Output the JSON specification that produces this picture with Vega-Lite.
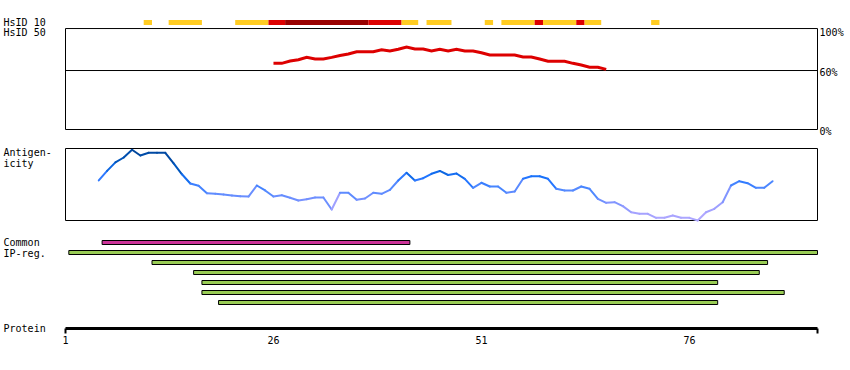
{
  "$schema": "https://vega.github.io/schema/vega-lite/v6.json",
  "width": 850,
  "height": 370,
  "padding": 0,
  "autosize": {"type": "fit", "contains": "padding"},
  "background": "white",
  "config": {"view": {"stroke": null}, "text": {"font": "DejaVu Sans Mono", "fontSize": 10, "color": "black"}},
  "datasets": {
    "hsid10": [
      {"from": 10.4, "to": 11.4, "level": "weak"},
      {"from": 13.4, "to": 17.4, "level": "weak"},
      {"from": 21.4, "to": 25.4, "level": "weak"},
      {"from": 25.4, "to": 27.4, "level": "medium"},
      {"from": 27.4, "to": 37.4, "level": "strong"},
      {"from": 37.4, "to": 41.4, "level": "medium"},
      {"from": 41.4, "to": 43.4, "level": "weak"},
      {"from": 44.4, "to": 47.4, "level": "weak"},
      {"from": 51.4, "to": 52.4, "level": "weak"},
      {"from": 53.4, "to": 57.4, "level": "weak"},
      {"from": 57.4, "to": 58.4, "level": "medium"},
      {"from": 58.4, "to": 62.4, "level": "weak"},
      {"from": 62.4, "to": 63.4, "level": "medium"},
      {"from": 63.4, "to": 65.4, "level": "weak"},
      {"from": 71.4, "to": 72.4, "level": "weak"}
    ],
    "hsid50": [
      {"residue": 26, "pct": 67.3}, {"residue": 27, "pct": 67.3}, {"residue": 28, "pct": 69.7},
      {"residue": 29, "pct": 71.0}, {"residue": 30, "pct": 73.4}, {"residue": 31, "pct": 71.7},
      {"residue": 32, "pct": 71.7}, {"residue": 33, "pct": 73.4}, {"residue": 34, "pct": 75.3},
      {"residue": 35, "pct": 76.8}, {"residue": 36, "pct": 79.1}, {"residue": 37, "pct": 79.1},
      {"residue": 38, "pct": 79.1}, {"residue": 39, "pct": 81.2}, {"residue": 40, "pct": 79.8},
      {"residue": 41, "pct": 81.6}, {"residue": 42, "pct": 83.9}, {"residue": 43, "pct": 81.9},
      {"residue": 44, "pct": 81.9}, {"residue": 45, "pct": 79.8}, {"residue": 46, "pct": 81.6},
      {"residue": 47, "pct": 79.8}, {"residue": 48, "pct": 81.6}, {"residue": 49, "pct": 79.8},
      {"residue": 50, "pct": 79.8}, {"residue": 51, "pct": 78.1}, {"residue": 52, "pct": 75.8},
      {"residue": 53, "pct": 75.8}, {"residue": 54, "pct": 75.8}, {"residue": 55, "pct": 75.8},
      {"residue": 56, "pct": 73.7}, {"residue": 57, "pct": 73.7}, {"residue": 58, "pct": 71.7},
      {"residue": 59, "pct": 69.4}, {"residue": 60, "pct": 69.4}, {"residue": 61, "pct": 69.4},
      {"residue": 62, "pct": 67.3}, {"residue": 63, "pct": 65.6}, {"residue": 64, "pct": 63.3},
      {"residue": 65, "pct": 63.3}, {"residue": 66, "pct": 61.2}
    ],
    "antigen": [
      {"residue": 5, "score": 0.556}, {"residue": 6, "score": 0.689}, {"residue": 7, "score": 0.808},
      {"residue": 8, "score": 0.875}, {"residue": 9, "score": 0.982}, {"residue": 10, "score": 0.903},
      {"residue": 11, "score": 0.94}, {"residue": 12, "score": 0.94}, {"residue": 13, "score": 0.94},
      {"residue": 14, "score": 0.792}, {"residue": 15, "score": 0.642}, {"residue": 16, "score": 0.514},
      {"residue": 17, "score": 0.483}, {"residue": 18, "score": 0.379}, {"residue": 19, "score": 0.372},
      {"residue": 20, "score": 0.361}, {"residue": 21, "score": 0.347}, {"residue": 22, "score": 0.336},
      {"residue": 23, "score": 0.333}, {"residue": 24, "score": 0.486}, {"residue": 25, "score": 0.417},
      {"residue": 26, "score": 0.333}, {"residue": 27, "score": 0.351}, {"residue": 28, "score": 0.315},
      {"residue": 29, "score": 0.278}, {"residue": 30, "score": 0.296}, {"residue": 31, "score": 0.319},
      {"residue": 32, "score": 0.319}, {"residue": 33, "score": 0.153}, {"residue": 34, "score": 0.385},
      {"residue": 35, "score": 0.385}, {"residue": 36, "score": 0.288}, {"residue": 37, "score": 0.306},
      {"residue": 38, "score": 0.385}, {"residue": 39, "score": 0.371}, {"residue": 40, "score": 0.426},
      {"residue": 41, "score": 0.556}, {"residue": 42, "score": 0.662}, {"residue": 43, "score": 0.556},
      {"residue": 44, "score": 0.588}, {"residue": 45, "score": 0.649}, {"residue": 46, "score": 0.688},
      {"residue": 47, "score": 0.632}, {"residue": 48, "score": 0.653}, {"residue": 49, "score": 0.579},
      {"residue": 50, "score": 0.454}, {"residue": 51, "score": 0.524}, {"residue": 52, "score": 0.472},
      {"residue": 53, "score": 0.472}, {"residue": 54, "score": 0.385}, {"residue": 55, "score": 0.403},
      {"residue": 56, "score": 0.579}, {"residue": 57, "score": 0.615}, {"residue": 58, "score": 0.615},
      {"residue": 59, "score": 0.579}, {"residue": 60, "score": 0.44}, {"residue": 61, "score": 0.417},
      {"residue": 62, "score": 0.417}, {"residue": 63, "score": 0.472}, {"residue": 64, "score": 0.44},
      {"residue": 65, "score": 0.301}, {"residue": 66, "score": 0.246}, {"residue": 67, "score": 0.254},
      {"residue": 68, "score": 0.199}, {"residue": 69, "score": 0.115}, {"residue": 70, "score": 0.093},
      {"residue": 71, "score": 0.093}, {"residue": 72, "score": 0.037}, {"residue": 73, "score": 0.037},
      {"residue": 74, "score": 0.069}, {"residue": 75, "score": 0.037}, {"residue": 76, "score": 0.037},
      {"residue": 77, "score": 0.0}, {"residue": 78, "score": 0.115}, {"residue": 79, "score": 0.162},
      {"residue": 80, "score": 0.254}, {"residue": 81, "score": 0.486}, {"residue": 82, "score": 0.546},
      {"residue": 83, "score": 0.518}, {"residue": 84, "score": 0.454}, {"residue": 85, "score": 0.454},
      {"residue": 86, "score": 0.546}
    ],
    "ipreg": [
      {"from": 5.4, "to": 42.4, "lane": 22, "kind": "common"},
      {"from": 1.4, "to": 91.4, "lane": 23, "kind": "ip"},
      {"from": 11.4, "to": 85.4, "lane": 24, "kind": "ip"},
      {"from": 16.4, "to": 84.4, "lane": 25, "kind": "ip"},
      {"from": 17.4, "to": 79.4, "lane": 26, "kind": "ip"},
      {"from": 17.4, "to": 87.4, "lane": 27, "kind": "ip"},
      {"from": 19.4, "to": 79.4, "lane": 28, "kind": "ip"}
    ],
    "labels": [
      {"text": "HsID 10", "lane": -0.45},
      {"text": "HsID 50", "lane": 0.5},
      {"text": "Antigen-\nicity", "lane": 12.5},
      {"text": "Common\nIP-reg.", "lane": 21.5},
      {"text": "Protein", "lane": 30.15}
    ],
    "pctlabels": [
      {"text": "100%", "pct": 100},
      {"text": "60%", "pct": 60},
      {"text": "0%", "pct": 0}
    ],
    "ticks": [
      {"residue": 1, "text": "1"},
      {"residue": 26, "text": "26"},
      {"residue": 51, "text": "51"},
      {"residue": 76, "text": "76"}
    ]
  },
  "resolve": {"scale": {"y": "independent", "color": "independent"}},
  "layer": [
    {
      "data": {"name": "hsid10"},
      "mark": {"type": "rect"},
      "encoding": {
        "x": {"field": "from", "type": "quantitative", "axis": null, "scale": {"domain": [1, 91.4], "range": [65.5, 817.5], "nice": false, "zero": false}},
        "x2": {"field": "to"},
        "y": {"datum": 0, "type": "ordinal", "axis": null, "scale": {"type": "band", "domain": [0,1,2,3,4,5,6,7,8,9,10,11,12,13,14,15,16,17,18,19,20,21,22,23,24,25,26,27,28], "range": [17.5, 307.5], "paddingInner": 0.5, "paddingOuter": 0.25}},
        "color": {"field": "level", "type": "nominal", "legend": null, "scale": {"domain": ["weak", "medium", "strong"], "range": ["#ffcc22", "#dd0000", "#990000"]}}
      }
    },
    {
      "data": {"values": [{}]},
      "mark": {"type": "rect", "fill": null, "fillOpacity": 0, "stroke": "black", "strokeWidth": 1},
      "encoding": {
        "x": {"datum": 1, "type": "quantitative", "axis": null, "scale": {"domain": [1, 91.4], "range": [65.5, 817.5], "nice": false, "zero": false}},
        "x2": {"datum": 91.4},
        "y": {"datum": 0, "type": "quantitative", "axis": null, "scale": {"domain": [0, 100], "range": [129.5, 31.2], "nice": false, "zero": false}},
        "y2": {"datum": 102.7}
      }
    },
    {
      "data": {"values": [{}]},
      "mark": {"type": "rule", "stroke": "black", "strokeWidth": 1},
      "encoding": {
        "x": {"datum": 1, "type": "quantitative", "axis": null, "scale": {"domain": [1, 91.4], "range": [65.5, 817.5], "nice": false, "zero": false}},
        "x2": {"datum": 91.4},
        "y": {"datum": 60, "type": "quantitative", "axis": null, "scale": {"domain": [0, 100], "range": [129.5, 31.2], "nice": false, "zero": false}}
      }
    },
    {
      "data": {"name": "hsid50"},
      "mark": {"type": "line", "stroke": "#dd0000", "strokeWidth": 3},
      "encoding": {
        "x": {"field": "residue", "type": "quantitative", "axis": null, "scale": {"domain": [1, 91.4], "range": [65.5, 817.5], "nice": false, "zero": false}},
        "y": {"field": "pct", "type": "quantitative", "axis": null, "scale": {"domain": [0, 100], "range": [129.5, 31.2], "nice": false, "zero": false}}
      }
    },
    {
      "data": {"name": "pctlabels"},
      "mark": {"type": "text", "align": "left", "baseline": "middle", "dy": 2},
      "encoding": {
        "x": {"datum": 91.65, "type": "quantitative", "axis": null, "scale": {"domain": [1, 91.4], "range": [65.5, 817.5], "nice": false, "zero": false}},
        "y": {"field": "pct", "type": "quantitative", "axis": null, "scale": {"domain": [0, 100], "range": [129.5, 31.2], "nice": false, "zero": false}},
        "text": {"field": "text"}
      }
    },
    {
      "data": {"values": [{}]},
      "mark": {"type": "rect", "fill": null, "fillOpacity": 0, "stroke": "black", "strokeWidth": 1},
      "encoding": {
        "x": {"datum": 1, "type": "quantitative", "axis": null, "scale": {"domain": [1, 91.4], "range": [65.5, 817.5], "nice": false, "zero": false}},
        "x2": {"datum": 91.4},
        "y": {"datum": 0, "type": "quantitative", "axis": null, "scale": {"domain": [0, 1], "range": [220.5, 148.5], "nice": false, "zero": false}},
        "y2": {"datum": 1}
      }
    },
    {
      "data": {"name": "antigen"},
      "transform": [
        {"window": [{"op": "lead", "field": "residue", "as": "r2"}, {"op": "lead", "field": "score", "as": "s2"}], "sort": [{"field": "residue"}]},
        {"filter": "datum.r2 != null"}
      ],
      "mark": {"type": "rule", "strokeWidth": 2, "strokeCap": "round"},
      "encoding": {
        "x": {"field": "residue", "type": "quantitative", "axis": null, "scale": {"domain": [1, 91.4], "range": [65.5, 817.5], "nice": false, "zero": false}},
        "x2": {"field": "r2"},
        "y": {"field": "score", "type": "quantitative", "axis": null, "scale": {"domain": [0, 1], "range": [220.5, 148.5], "nice": false, "zero": false}},
        "y2": {"field": "s2"},
        "color": {"field": "score", "type": "quantitative", "legend": null, "scale": {"domain": [0, 0.15, 0.3, 0.45, 0.6, 0.8, 1], "range": ["#b0a8ff", "#a0a0ff", "#7090ff", "#4d88ff", "#1a73ff", "#0055bb", "#004499"]}}
      }
    },
    {
      "data": {"name": "ipreg"},
      "mark": {"type": "rect", "stroke": "black", "strokeWidth": 1},
      "encoding": {
        "x": {"field": "from", "type": "quantitative", "axis": null, "scale": {"domain": [1, 91.4], "range": [65.5, 817.5], "nice": false, "zero": false}},
        "x2": {"field": "to"},
        "y": {"field": "lane", "type": "ordinal", "axis": null, "scale": {"type": "band", "domain": [0,1,2,3,4,5,6,7,8,9,10,11,12,13,14,15,16,17,18,19,20,21,22,23,24,25,26,27,28], "range": [17.5, 307.5], "paddingInner": 0.6, "paddingOuter": 0.3}},
        "color": {"field": "kind", "type": "nominal", "legend": null, "scale": {"domain": ["common", "ip"], "range": ["#cc3399", "#99cc55"]}}
      }
    },
    {
      "data": {"values": [{}]},
      "mark": {"type": "rule", "stroke": "black", "strokeWidth": 3},
      "encoding": {
        "x": {"datum": 1, "type": "quantitative", "axis": null, "scale": {"domain": [1, 91.4], "range": [65.5, 817.5], "nice": false, "zero": false}},
        "x2": {"datum": 91.4},
        "y": {"datum": 30.6, "type": "quantitative", "axis": null, "scale": {"domain": [0, 28], "range": [22.5, 302.5], "nice": false, "zero": false}}
      }
    },
    {
      "data": {"values": [{"residue": 1}, {"residue": 91.4}]},
      "mark": {"type": "rule", "stroke": "black", "strokeWidth": 2},
      "encoding": {
        "x": {"field": "residue", "type": "quantitative", "axis": null, "scale": {"domain": [1, 91.4], "range": [65.5, 817.5], "nice": false, "zero": false}},
        "y": {"datum": 30.6, "type": "quantitative", "axis": null, "scale": {"domain": [0, 28], "range": [22.5, 302.5], "nice": false, "zero": false}},
        "y2": {"datum": 31.1}
      }
    },
    {
      "data": {"name": "ticks"},
      "mark": {"type": "text", "align": "center", "baseline": "top"},
      "encoding": {
        "x": {"field": "residue", "type": "quantitative", "axis": null, "scale": {"domain": [1, 91.4], "range": [65.5, 817.5], "nice": false, "zero": false}},
        "y": {"datum": 31.35, "type": "quantitative", "axis": null, "scale": {"domain": [0, 28], "range": [22.5, 302.5], "nice": false, "zero": false}},
        "text": {"field": "text"}
      }
    },
    {
      "data": {"name": "labels"},
      "mark": {"type": "text", "align": "left", "baseline": "top", "lineBreak": "\n", "lineHeight": 11},
      "encoding": {
        "x": {"datum": -6.45, "type": "quantitative", "axis": null, "scale": {"domain": [1, 91.4], "range": [65.5, 817.5], "nice": false, "zero": false}},
        "y": {"field": "lane", "type": "quantitative", "axis": null, "scale": {"domain": [0, 28], "range": [22.5, 302.5], "nice": false, "zero": false}},
        "text": {"field": "text"}
      }
    }
  ]
}
